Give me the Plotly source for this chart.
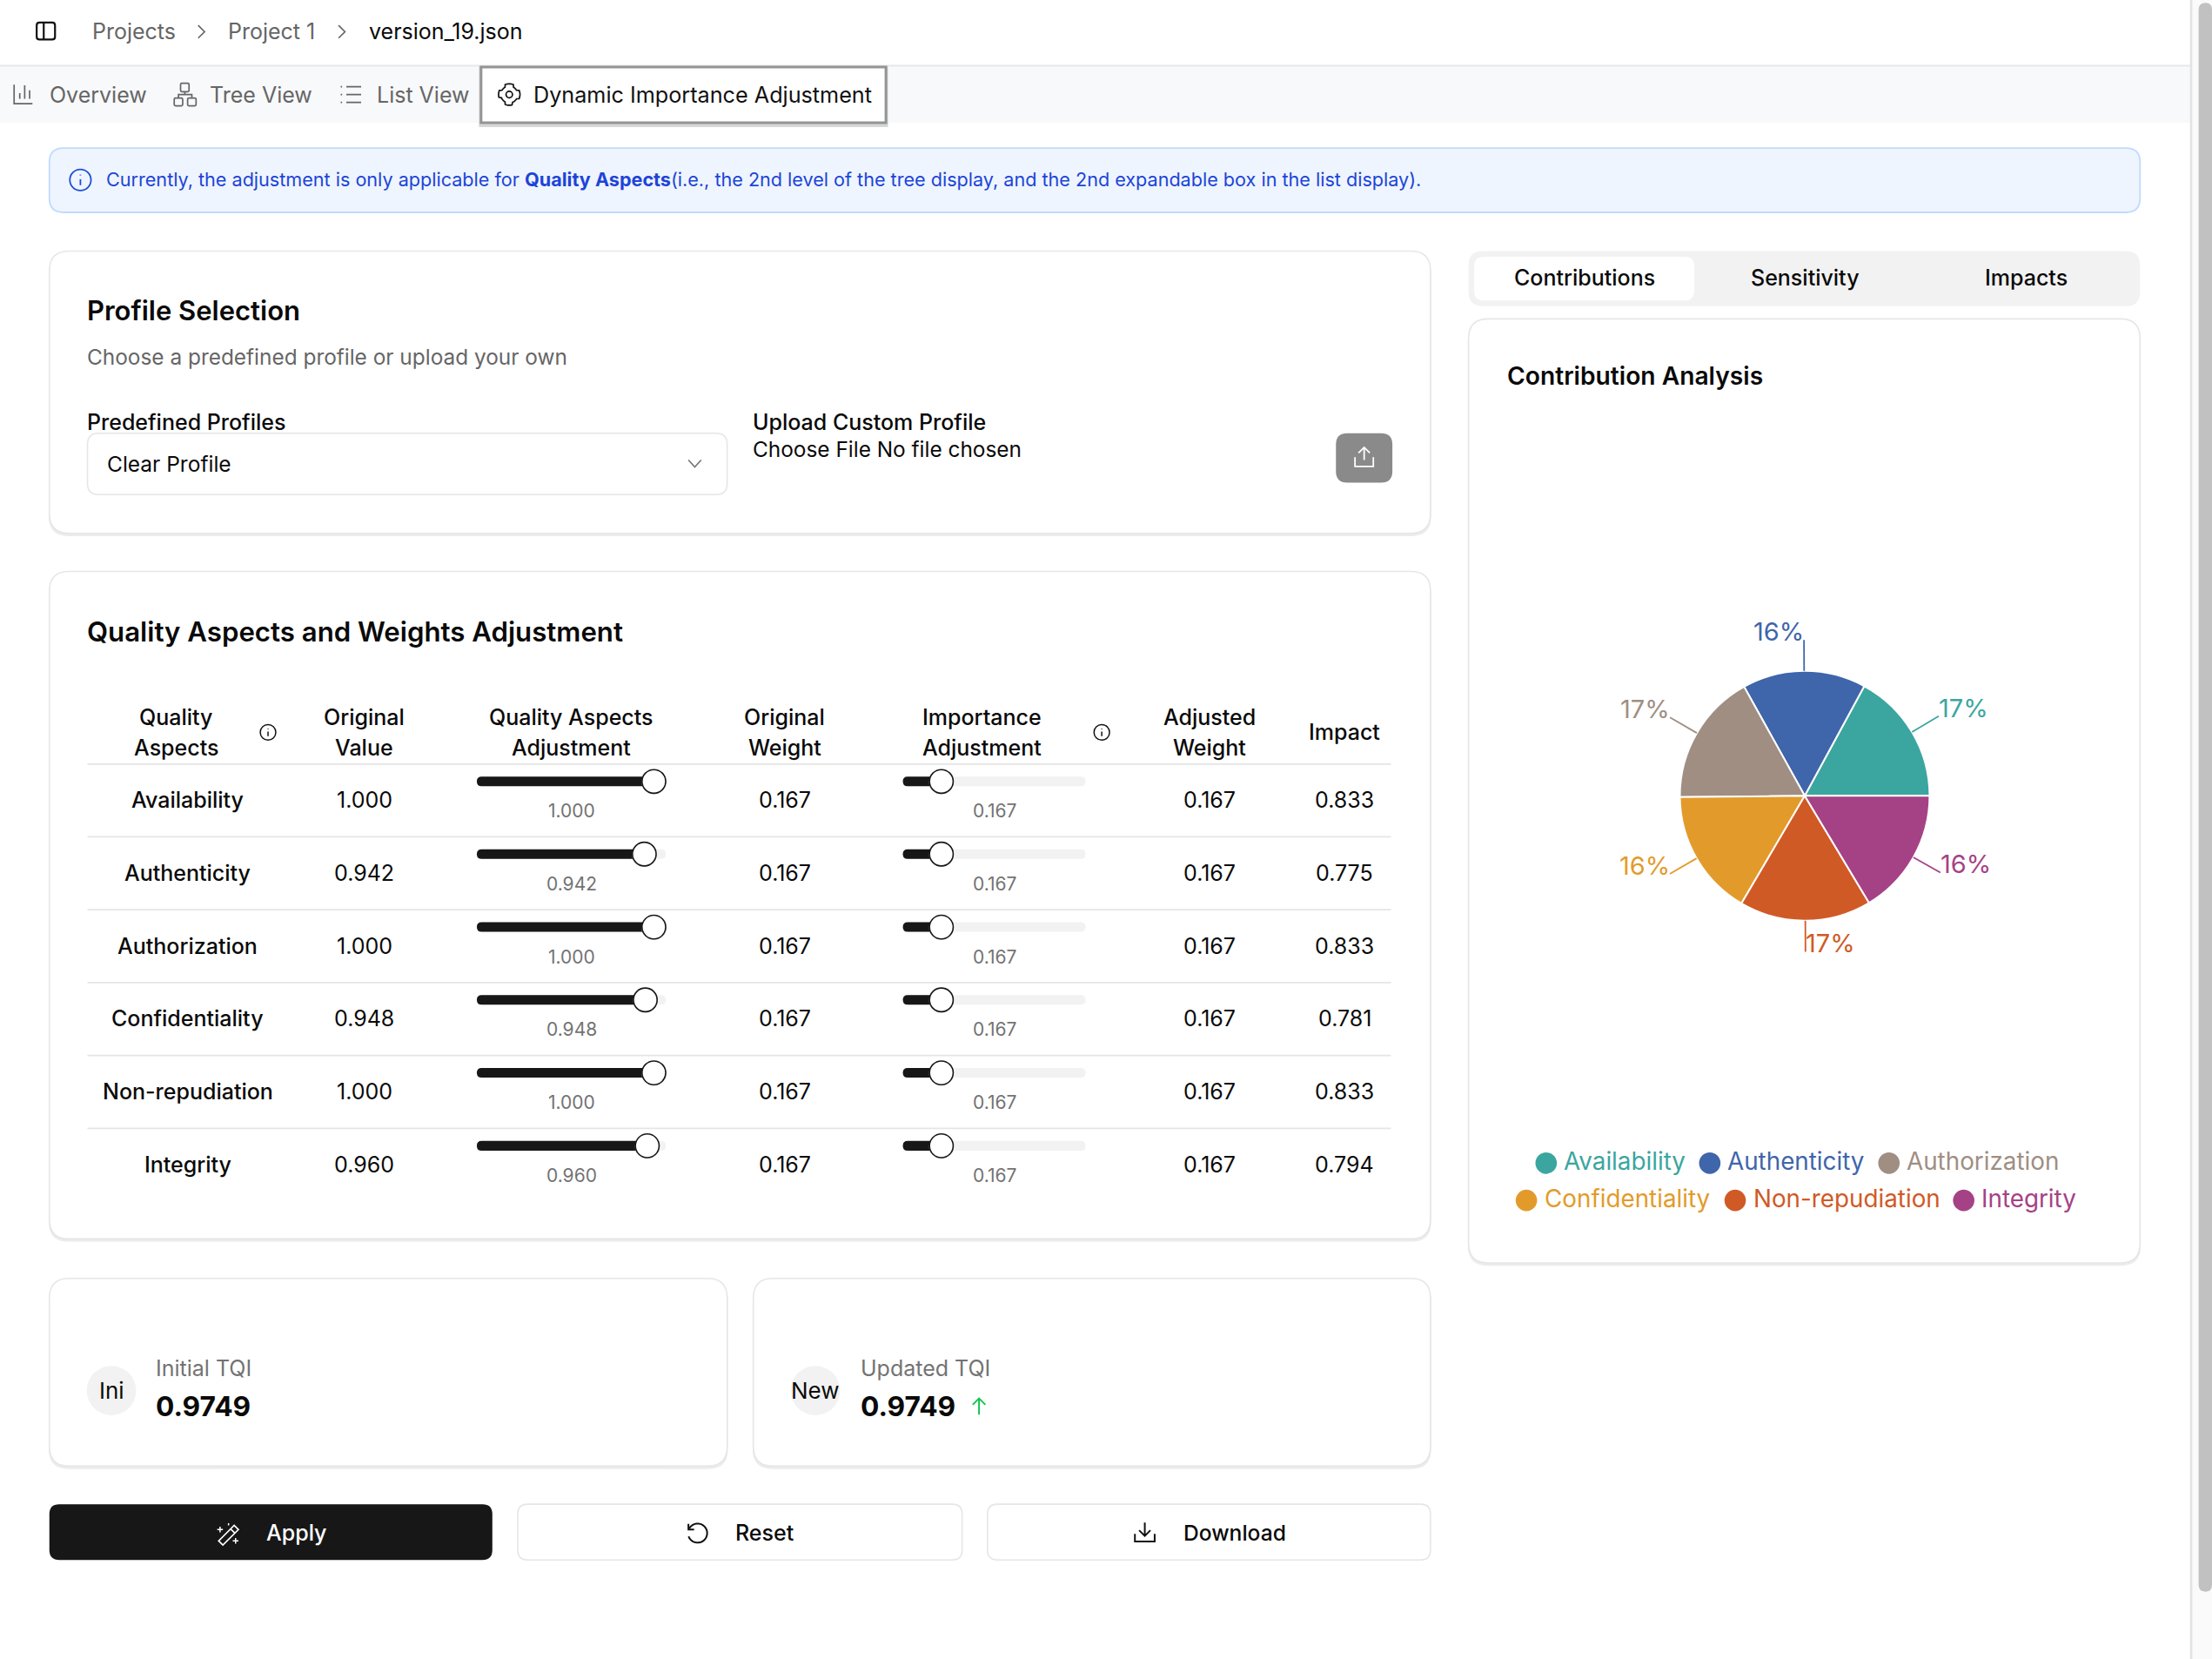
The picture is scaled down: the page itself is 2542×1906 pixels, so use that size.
import math
import plotly.graph_objects as go

# data
aspects = ["Availability", "Authenticity", "Authorization", "Confidentiality", "Non-repudiation", "Integrity"]
contribution = [17.1, 16.0, 17.1, 16.4, 17.1, 16.4]
pie_colors = ["#3ba69f", "#3f65ab", "#a08e83", "#e29b2b", "#d05a26", "#a54286"]
original_value = [1.000, 0.942, 1.000, 0.948, 1.000, 0.960]
quality_adjust = [1.000, 0.942, 1.000, 0.948, 1.000, 0.960]
original_weight = [0.167, 0.167, 0.167, 0.167, 0.167, 0.167]
importance_adjust = [0.167, 0.167, 0.167, 0.167, 0.167, 0.167]
adjusted_weight = [0.167, 0.167, 0.167, 0.167, 0.167, 0.167]
impact = [0.833, 0.775, 0.833, 0.781, 0.833, 0.794]
initial_tqi = 0.9749
updated_tqi = 0.9749

FONT = "Inter"
W, H = 1568, 1175.7   # layout coordinates, 1 unit = 1.621 px
shapes = []
notes = []


def rr(x0, y0, x1, y1, r):
    return (f"M{x0+r},{y0} L{x1-r},{y0} Q{x1},{y0} {x1},{y0+r} L{x1},{y1-r} Q{x1},{y1} {x1-r},{y1} "
            f"L{x0+r},{y1} Q{x0},{y1} {x0},{y1-r} L{x0},{y0+r} Q{x0},{y0} {x0+r},{y0} Z")


def box(x0, y0, x1, y1, r=0, fill="white", line=None, lw=1.6, layer="above"):
    shapes.append(dict(type="path", path=rr(x0, y0, x1, y1, r) if r else f"M{x0},{y0} L{x1},{y0} L{x1},{y1} L{x0},{y1} Z",
                       fillcolor=fill, layer=layer, line=dict(color=line or "rgba(0,0,0,0)", width=lw if line else 0)))


def card(x0, y0, x1, y1, r=14):
    # cards stay under the traces so the pie is not hidden
    box(x0 - 0.5, y0 + 2, x1 + 0.5, y1 + 2, r, "#ececec", layer="below")
    box(x0, y0, x1, y1, r, "white", "#e6e6e6", layer="below")


def stroke(d, color="#111111", lw=2.2):
    shapes.append(dict(type="path", path=d, line=dict(color=color, width=lw)))


def circle(cx, cy, r, fill="rgba(0,0,0,0)", line=None, lw=1.8):
    shapes.append(dict(type="circle", x0=cx - r, x1=cx + r, y0=cy - r, y1=cy + r, fillcolor=fill,
                       line=dict(color=line or "rgba(0,0,0,0)", width=lw if line else 0)))


def txt(x, y, s, size=25, color="#0a0a0a", anchor="left", weight=400):
    dx = {"left": -0.8, "center": 0.2, "right": 0.8}[anchor]
    notes.append(dict(x=x + dx, y=y - 0.5, text=s, showarrow=False, xanchor=anchor, yanchor="middle", xref="x", yref="y",
                      borderpad=0, font=dict(family=FONT, size=size, color=color, weight=weight)))


def arc(cx, cy, r, a0, a1, n=24):
    pts = [(cx + r * math.cos(math.radians(a0 + (a1 - a0) * i / n)), cy + r * math.sin(math.radians(a0 + (a1 - a0) * i / n)))
           for i in range(n + 1)]
    return "M" + " L".join(f"{x:.2f},{y:.2f}" for x, y in pts)


def info(cx, cy, r, color, lw=1.8):
    circle(cx, cy, r, line=color, lw=lw)
    stroke(f"M{cx},{cy-0.5} L{cx},{cy+r*0.5}", color, lw)
    stroke(f"M{cx},{cy-r*0.5} L{cx},{cy-r*0.42}", color, lw)


# page chrome
box(0, 47, 1553, 87, 0, "#f8f9fb")
stroke("M0,46.5 L1553,46.5", "#e5e7eb", 2)
stroke(f"M1553.3,0 L1553.3,{H}", "#e3e3e3", 3)
box(1554.2, 0, W, H, 0, "#fafafa")
shapes.append(dict(type="path", path=f"M1558.5,7 Q1558.5,2 1563.5,2 Q1568,2 1568,7 L1568,1123 Q1568,1128 1563.5,1128 Q1558.5,1128 1558.5,1123 Z",
                   fillcolor="#c1c1c1", line=dict(width=0)))

# breadcrumb
box(26, 16, 39, 28, 2, "rgba(0,0,0,0)", "#111111", 2.2)
stroke("M31,16 L31,28", "#111111", 2.2)
txt(65.5, 22.5, "Projects", color="#666666")
stroke("M140.5,18 L145,22.5 L140.5,27", "#666666", 1.7)
txt(162, 22.5, "Project 1", color="#666666")
stroke("M240,18 L244.5,22.5 L240,27", "#666666", 1.7)
txt(262, 22.5, "version_19.json")

# tab strip
stroke("M10,60 L10,73.5 L23,73.5 M14,70 L14,66 M17.5,70 L17.5,60.5 M21,70 L21,64", "#666666", 1.7)
txt(35.5, 67.5, "Overview", color="#666666")
box(128, 59, 134, 65, 1, "rgba(0,0,0,0)", "#666666", 1.7)
box(123.5, 69.5, 129.5, 75, 1, "rgba(0,0,0,0)", "#666666", 1.7)
box(133, 69.5, 139, 75, 1, "rgba(0,0,0,0)", "#666666", 1.7)
stroke("M126.5,69.5 L126.5,67 L136,67 L136,69.5 M131,65 L131,67", "#666666", 1.7)
txt(149, 67.5, "Tree View", color="#666666")
stroke("M245.5,61.5 L256,61.5 M245.5,67 L256,67 M245.5,72.5 L256,72.5 M241.5,61.5 L242.5,61.5 M241.5,67 L242.5,67 M241.5,72.5 L242.5,72.5", "#666666", 1.7)
txt(267, 67.5, "List View", color="#666666")
box(339.5, 47, 629.5, 90, 0, "#d6d6d6")
box(341, 47.5, 628, 87, 0, "white", "#949494", 3)
gear = []
for i in range(49):
    a = 2 * math.pi * i / 48
    r = 6.0 + 1.6 * (1 if math.cos(4 * a) > 0 else 0)
    gear.append(f"{361 + r * math.cos(a):.2f},{67 + r * math.sin(a):.2f}")
stroke("M" + " L".join(gear) + " Z", "#111111", 1.7)
circle(361, 67, 2.3, line="#111111", lw=1.7)
txt(378.5, 67.5, "Dynamic Importance Adjustment", size=25.2, color="#111111")

# notice
box(35, 105, 1517, 150.5, 10, "#eef5fe", "#bfdbfe", 1.8)
info(57, 127.5, 7.5, "#1d4ed8")
txt(75.5, 127.5, "Currently, the adjustment is only applicable for <b>Quality Aspects</b>(i.e., the 2nd level of the tree display, and the 2nd expandable box in the list display).",
    size=21.6, color="#1d44d8")

# profile card
card(35, 178, 1014, 378)
txt(62, 220.5, "Profile Selection", size=31, weight=600)
txt(62, 253.5, "Choose a predefined profile or upload your own", size=24.4, color="#666666")
txt(62, 299.5, "Predefined Profiles", weight=500)
box(62, 307, 515.5, 350.5, 8, "white", "#e6e6e6")
txt(76, 329, "Clear Profile", size=24.5)
stroke("M488,326 L492.5,331 L497,326", "#777777", 1.7)
txt(534, 299.5, "Upload Custom Profile", weight=500)
txt(534, 318.5, "Choose File No file chosen", size=24.4)
box(947, 307, 987, 342, 8, "#8a8a8a")
stroke("M960.5,324 L960.5,330.5 L973.5,330.5 L973.5,324 M967,326 L967,317 M963,321 L967,317 L971,321", "white", 1.8)

# weights card
card(35, 405, 1014, 878)
txt(62, 448.5, "Quality Aspects and Weights Adjustment", size=31.2, weight=600)
for x, lines in [(124.5, ["Quality", "Aspects"]), (258, ["Original", "Value"]), (405, ["Quality Aspects", "Adjustment"]),
                 (556, ["Original", "Weight"]), (696, ["Importance", "Adjustment"]), (857, ["Adjusted", "Weight"])]:
    txt(x, 508.5, lines[0], anchor="center", weight=500)
    txt(x, 530.5, lines[1], anchor="center", weight=500)
txt(953, 519.5, "Impact", anchor="center", weight=500)
info(190, 519, 5.5, "#111111", 1.5)
info(781, 519, 5.5, "#111111", 1.5)

row_top = [541.5, 593, 644.7, 696.3, 748, 799.7]
for i, name in enumerate(aspects):
    top = row_top[i]
    stroke(f"M62,{top} L986,{top}", "#e5e5e5", 1.8)
    mid = top + 26
    txt(133, mid, name, anchor="center", weight=500)
    txt(258, mid, f"{original_value[i]:.3f}", anchor="center")
    txt(556, mid, f"{original_weight[i]:.3f}", anchor="center")
    txt(857, mid, f"{adjusted_weight[i]:.3f}", anchor="center")
    txt(953, mid, f"{impact[i]:.3f}", anchor="center")
    sy = top + 12.3
    for x0, x1, val, lab_x in [(338, 472, quality_adjust[i], 405), (640, 769.5, importance_adjust[i], 704.6)]:
        knob = x0 + 8.5 + val * (x1 - x0 - 17)
        box(x0, sy - 3.4, x1, sy + 3.4, 3.4, "#f2f2f2")
        box(x0, sy - 3.4, knob, sy + 3.4, 3.4, "#171717")
        circle(knob, sy + 0.5, 8.7, fill="#dddddd")
        circle(knob, sy, 8.4, fill="white", line="#171717", lw=1.6)
        txt(lab_x, top + 33.8, f"{val:.3f}", size=21, color="#737373", anchor="center")

# TQI cards
card(35, 906, 515.5, 1039)
circle(79, 985.5, 17.5, fill="#f2f2f2")
txt(79, 986, "Ini", anchor="center", size=26)
txt(110.5, 970.3, "Initial TQI", color="#737373")
txt(110.5, 997, f"{initial_tqi:.4f}", size=31.7, weight=700)
card(534, 906, 1014, 1039)
circle(578, 985.5, 17.5, fill="#f2f2f2")
txt(578, 986, "New", anchor="center", size=26)
txt(610, 970.3, "Updated TQI", color="#737373")
txt(610, 997, f"{updated_tqi:.4f}", size=31.7, weight=700)
stroke("M694,1002.5 L694,991 M689.5,995.5 L694,991 L698.5,995.5", "#16c44f", 2)

# action buttons
box(35, 1066, 349, 1105.5, 7, "#171717")
stroke("M155,1092 L166,1081 L169,1084 L158,1095 Z M163.5,1083.5 L166.5,1086.5", "white", 1.7)
stroke("M156,1082 L156,1086 M154,1084 L158,1084 M167,1090 L167,1094 M165,1092 L169,1092 M162,1079.5 L162,1081", "white", 1.5)
txt(189, 1086.5, "Apply", color="white", weight=500)
box(367, 1066, 682, 1105.5, 7, "white", "#e6e6e6")
stroke(arc(494.5, 1086.5, 6.8, -150, 160), "#111111", 2)
stroke("M488,1080 L488,1084 L492,1084", "#111111", 2)
txt(521.5, 1086.5, "Reset", weight=500)
box(700, 1066, 1014, 1105.5, 7, "white", "#e6e6e6")
stroke("M804.5,1087 L804.5,1092.5 L818.5,1092.5 L818.5,1087 M811.5,1079 L811.5,1088.5 M807.5,1084.5 L811.5,1088.5 L815.5,1084.5", "#111111", 2)
txt(839, 1086.5, "Download", size=24.6, weight=500)

# right column
box(1041, 178, 1517, 217, 10, "#f2f2f2")
box(1045, 182, 1201, 213, 7, "white")
txt(1123, 197.5, "Contributions", anchor="center", weight=500)
txt(1279.5, 197.5, "Sensitivity", anchor="center", weight=500)
txt(1436, 197.5, "Impacts", anchor="center", weight=500)
card(1041, 226, 1517, 895)
txt(1068.5, 267, "Contribution Analysis", size=28.2, weight=600)

# pie, labels and leaders follow the slice angles
PIE_X, PIE_Y, PIE_R = 1279.3, 564, 88.5
total = sum(contribution)
fig = go.Figure(go.Pie(
    labels=aspects, values=contribution, sort=False, direction="counterclockwise",
    # counterclockwise pies hang the first slice's far edge on the rotation angle
    rotation=90 - contribution[0] / total * 360,
    textinfo="none", marker=dict(colors=pie_colors, line=dict(color="white", width=2)), showlegend=False,
    domain=dict(x=[(PIE_X - PIE_R) / W, (PIE_X + PIE_R) / W], y=[1 - (PIE_Y + PIE_R) / H, 1 - (PIE_Y - PIE_R) / H]),
))
start = 0.0
for name, val, col in zip(aspects, contribution, pie_colors):
    a = math.radians(start + val / total * 180)
    start += val / total * 360
    ca, sa = math.cos(a), math.sin(a)
    x0, y0 = PIE_X + PIE_R * ca, PIE_Y - PIE_R * sa
    x1, y1 = PIE_X + (PIE_R + 22) * ca, PIE_Y - (PIE_R + 22) * sa
    stroke(f"M{x0:.2f},{y0:.2f} L{x1:.2f},{y1:.2f}", col, 1.8)
    txt(x1, y1 - 5.5, f"{val / total:.0%}", size=29, color=col, anchor="left" if ca > 0 else "right")

legend_rows = [[(1096, 0), (1212, 1), (1339, 2)], [(1082, 3), (1230, 4), (1392, 5)]]
for row_y, row in zip([823.3, 849.7], legend_rows):
    for x, k in row:
        circle(x, row_y + 1, 7.6, fill=pie_colors[k])
        txt(x + 12.8, row_y, aspects[k], size=27.8, color=pie_colors[k])

fig.update_layout(
    width=2542, height=1906, margin=dict(l=0, r=0, t=0, b=0), paper_bgcolor="white", plot_bgcolor="rgba(0,0,0,0)",
    xaxis=dict(range=[0, W], visible=False, fixedrange=True),
    yaxis=dict(range=[H, 0], visible=False, fixedrange=True),
    shapes=shapes, annotations=notes, showlegend=False,
)
fig.write_html("out.html", config=dict(displayModeBar=False), post_script="document.body.style.margin='0';")
